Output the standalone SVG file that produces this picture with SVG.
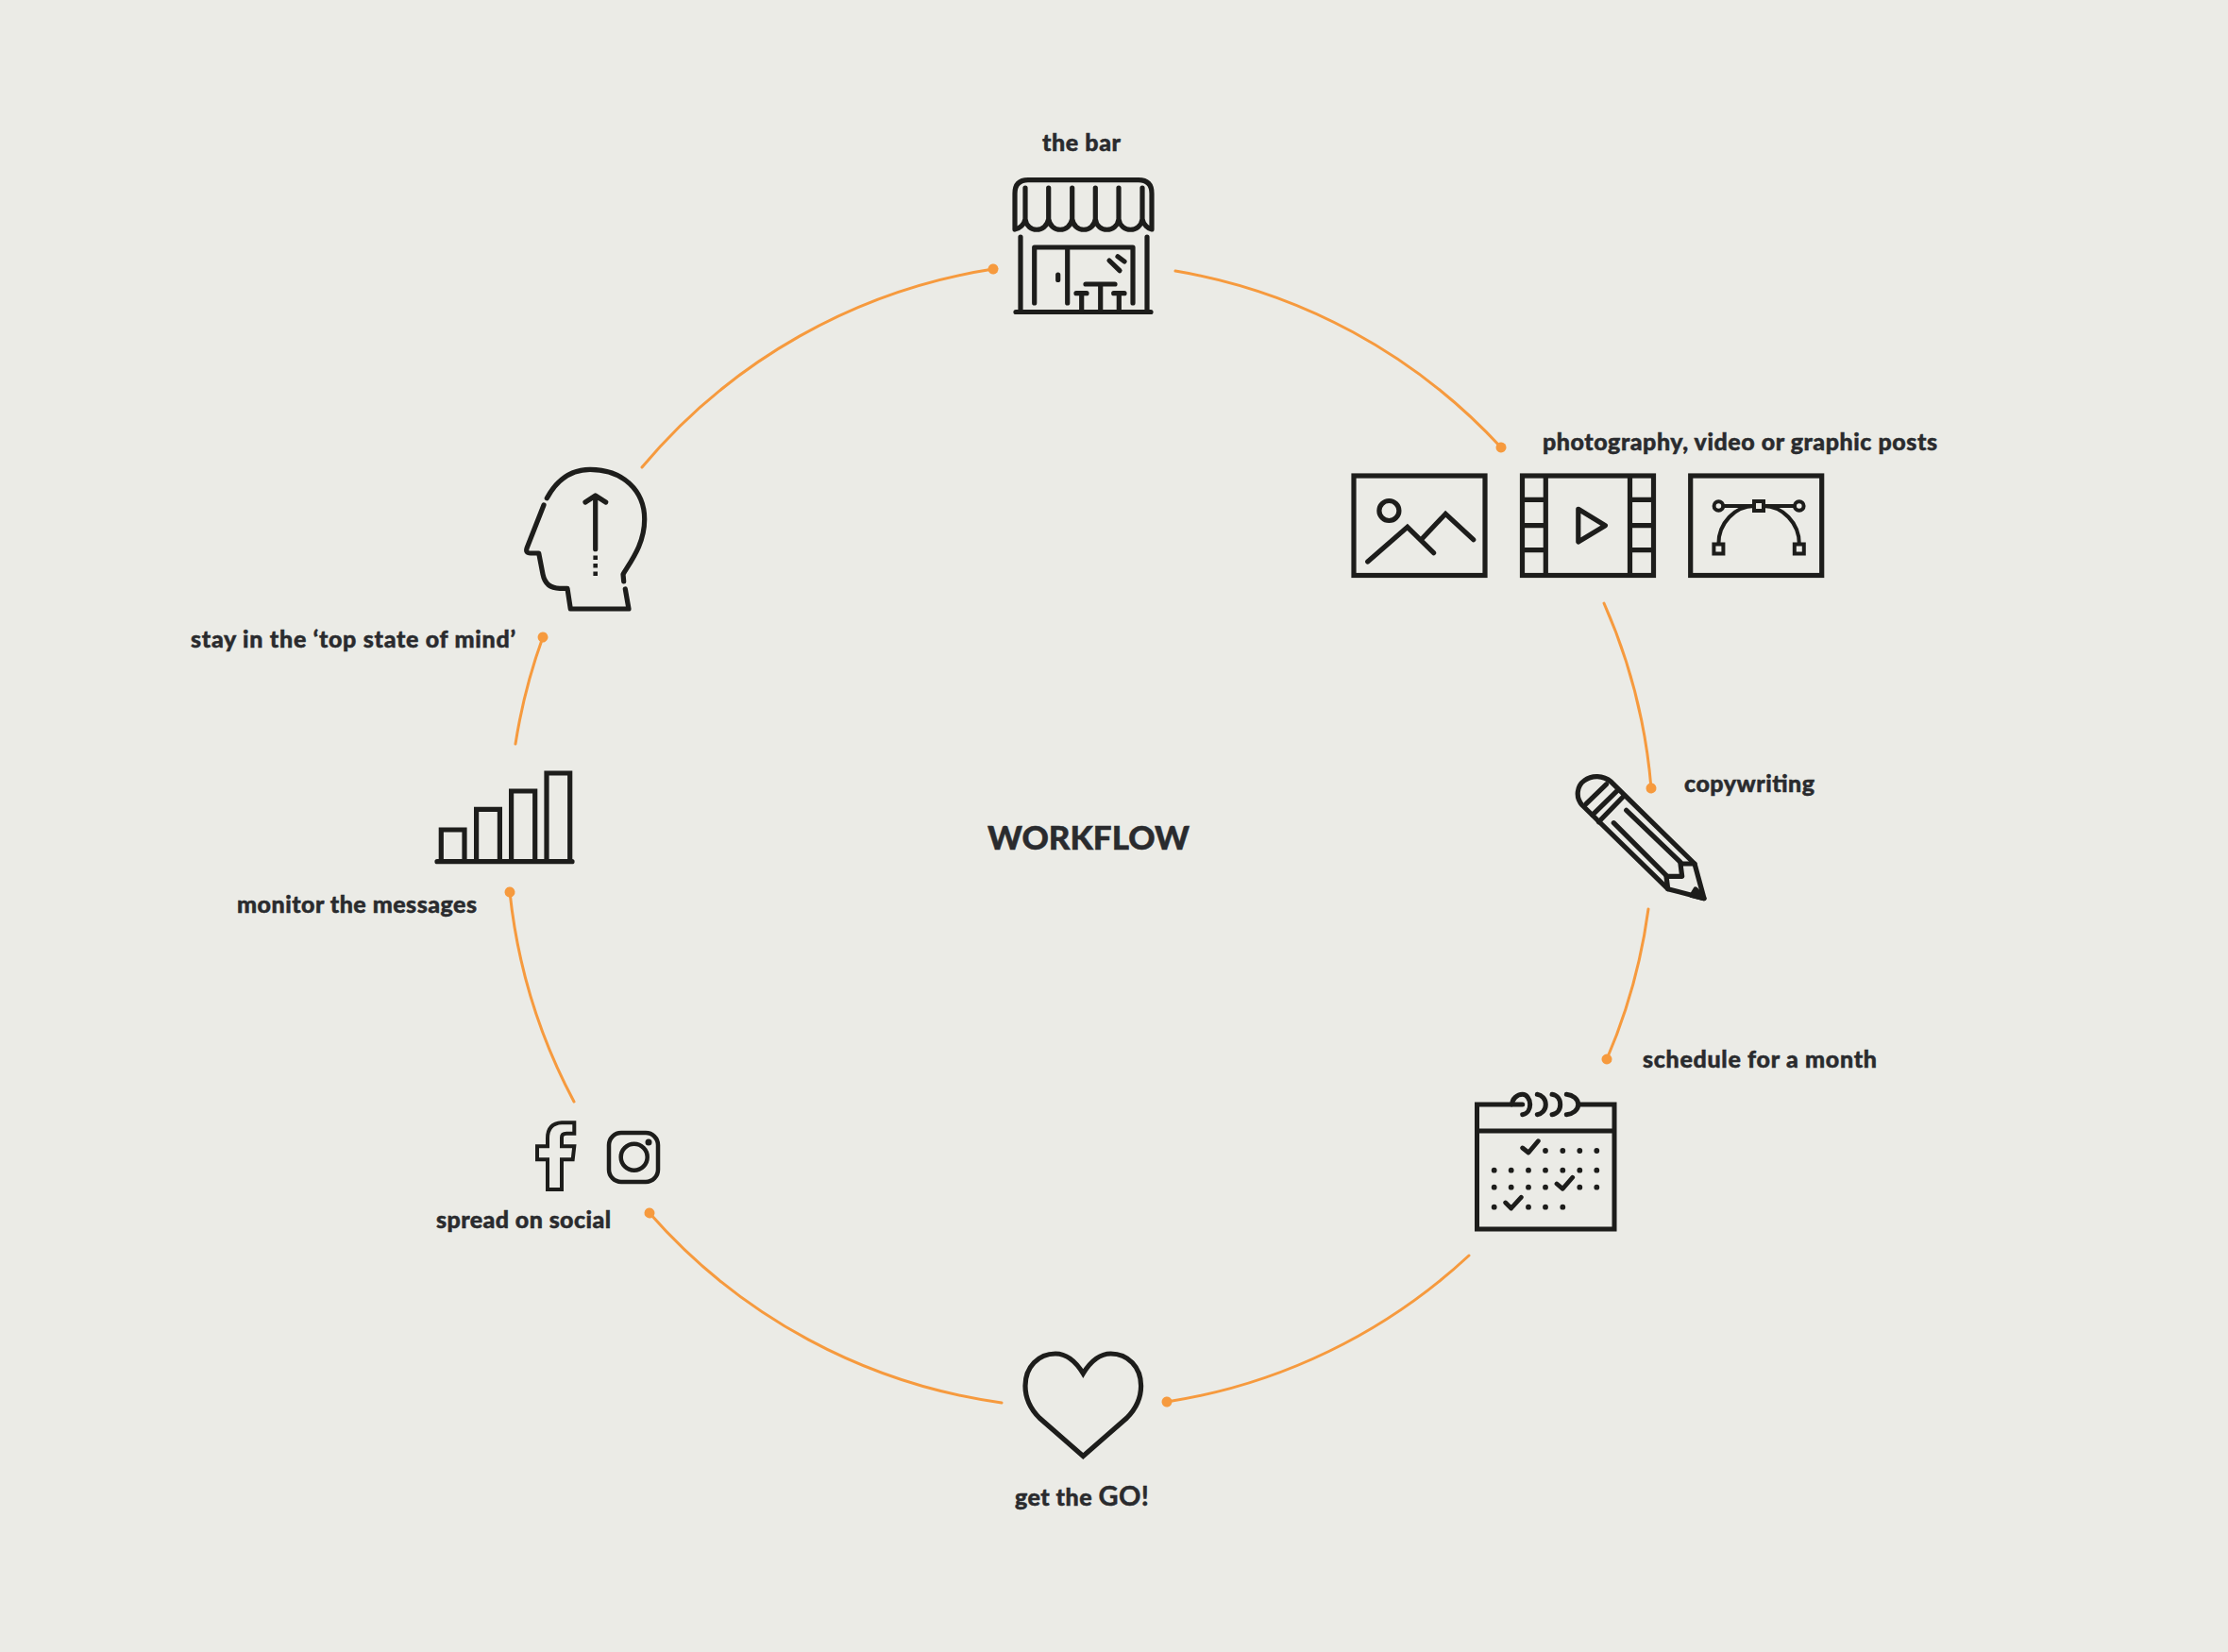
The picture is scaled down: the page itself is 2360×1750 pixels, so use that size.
<svg xmlns="http://www.w3.org/2000/svg" width="2360" height="1750" viewBox="0 0 2360 1750">
<defs>
<marker id="dot" markerUnits="userSpaceOnUse" markerWidth="14" markerHeight="14" refX="7" refY="7" orient="auto"><circle cx="7" cy="7" r="5.500" fill="#f69a3e"/></marker>
</defs>
<style>
.ic{fill:none;stroke:#1d1d1b;stroke-width:5.200;stroke-linecap:round;stroke-linejoin:round}
.sq{stroke-linecap:butt;stroke-linejoin:miter}
.th{stroke-width:4}
.k{fill:#1d1d1b}
.arc{fill:none;stroke:#f69a3e;stroke-width:3;stroke-linecap:round;marker-end:url(#dot)}
text{font-family:"Lato","Liberation Sans",sans-serif;font-weight:900;font-size:25px;fill:#2a2b2e;stroke:#2a2b2e;stroke-width:.5}
</style>
<rect width="2360" height="1750" fill="#ebebe6"/>
<g id="connectors" transform="translate(0,1)">
<path class="arc" d="M1245,286 A606,606 0 0 1 1590,473"/>
<path class="arc" d="M1699,638 A606,606 0 0 1 1749,834"/>
<path class="arc" d="M1746,962 A606,606 0 0 1 1702,1121"/>
<path class="arc" d="M1556,1329 A606,606 0 0 1 1236,1484"/>
<path class="arc" d="M1061,1485 A606,606 0 0 1 688,1284"/>
<path class="arc" d="M608,1166 A606,606 0 0 1 540,944"/>
<path class="arc" d="M546,787 A606,606 0 0 1 575,674"/>
<path class="arc" d="M680,494 A606,606 0 0 1 1052,284"/>
</g>
<text id="title" x="1046" y="900" style="font-size:35px" textLength="214">WORKFLOW</text>
<g id="node-bar">
<text x="1104" y="160" textLength="83">the bar</text>
<g class="ic">
<path d="M1075,243 V205 Q1075,190.700 1089,190.700 H1206 Q1220,190.700 1220,205 V243 C1216,242 1211,238 1210,232 V199 M1210,232 C1208,247 1187,247 1185,232 V199 M1185,232 C1183,247 1162,247 1160.300,232 V199 M1160.300,232 C1158,247 1138,247 1135.700,232 V199 M1135.700,232 C1133,247 1113,247 1110.700,232 V199 M1110.700,232 C1108,247 1088,247 1086,232 V199 M1086,232 C1085,238 1080,242 1075,243"/>
<path d="M1081,251 V330 M1215,251 V330 M1076,330.500 H1219"/>
<path d="M1095.700,321 V262 H1200 V321 M1130.700,262 V321 M1120.700,291 V296.500"/>
<path d="M1175,276 L1186,286.700 M1184,271.700 L1191,277"/>
<path d="M1150,301 H1181 M1165.700,301 V330 M1140,310.700 H1151 M1145.700,310.700 V330 M1179.700,310.700 H1191 M1185.300,310.700 V330"/>
</g>
</g>
<g id="node-posts">
<text x="1634" y="477" textLength="418">photography, video or graphic posts</text>
<g class="ic sq">
<rect x="1434" y="504" width="139" height="105.500"/>
<ellipse cx="1471.400" cy="541" rx="10.500" ry="10.500"/>
<path style="stroke-linecap:round" d="M1448.700,595 L1490.800,558.300 L1518.600,585.700 M1506,571 L1531.200,544.300 L1560.700,571.700"/>
<rect x="1612.500" y="504" width="139" height="105.500"/>
<path d="M1637.300,504 V609.500 M1726.500,504 V609.500 M1612.500,529.300 H1637.300 M1612.500,556.700 H1637.300 M1612.500,582.700 H1637.300 M1726.500,529.300 H1751.500 M1726.500,556.700 H1751.500 M1726.500,582.700 H1751.500"/>
<path style="stroke-linejoin:round" d="M1671.800,539.300 L1700.400,556.700 L1671.800,574 Z"/>
<rect x="1790.700" y="504" width="139" height="105.500"/>
</g>
<g class="ic sq th">
<path d="M1825,536 H1858 M1868,536 H1901"/>
<path d="M1820.400,576 C1820.400,554 1838,536 1858,536 M1868,536 C1888,536 1905.800,554 1905.800,576"/>
<circle cx="1820.400" cy="536" r="4.800"/><circle cx="1905.800" cy="536" r="4.800"/>
<rect x="1858" y="531" width="10" height="10"/>
<rect x="1815.400" y="576.500" width="10" height="10"/>
<rect x="1900.800" y="576.500" width="10" height="10"/>
</g>
</g>
<g id="node-copywriting">
<text x="1784" y="839" textLength="138">copywriting</text>
<g class="ic">
<path d="M1676,853 C1668,844 1671,832 1678,827 C1686,821 1698,821 1706.700,828.300 L1795,915 L1805,951.700 L1766.700,941.700 Z"/>
<path d="M1680,851.700 L1701.700,830.700 M1686.700,863.300 L1713.300,837.300 M1693.300,870.700 L1720,843.300"/>
<path d="M1722.700,858.300 L1780,913.300 M1709.300,871.700 L1765,927.300"/>
<path d="M1795,915 L1780,915 L1781.700,928.300 L1765,928.300 L1766.700,941.700"/>
<path class="k" d="M1796,942 L1805,951.700 L1792,948.500 Z"/>
</g>
</g>
<g id="node-schedule">
<text x="1740" y="1131" textLength="248">schedule for a month</text>
<g class="ic sq" style="stroke-width:5">
<path d="M1602,1170 H1564.500 V1302 H1710 V1170 H1672 M1564.500,1198 H1710"/>
</g>
<g class="ic" style="stroke-width:5">
<path d="M1612.700,1180.700 C1618,1180 1620.700,1175 1620.700,1170 C1620.700,1164 1617,1159.300 1612.700,1159.300 C1607,1159.300 1601.700,1164 1601.700,1170 H1612.700"/>
<path d="M1628.300,1159.300 C1633,1160 1637.300,1164 1637.300,1170 C1637.300,1176 1633,1180 1628.300,1180.700"/>
<path d="M1644,1159.300 C1649,1160 1652.700,1164 1652.700,1170 C1652.700,1176 1649,1180 1644,1180.700"/>
<path d="M1659.300,1159.300 C1666,1160 1671.700,1164 1671.700,1170 C1671.700,1176 1666,1180 1659.300,1180.700"/>
<path style="stroke-width:4.800" d="M1612.700,1216 L1619,1221 L1629.300,1208.700 M1649,1254 L1655.300,1259.300 L1665.700,1247.300 M1594.700,1274 L1600.700,1280 L1611.300,1268.300"/>
</g>
<g class="k">
<circle cx="1637" cy="1219" r="2.900"/><circle cx="1655.300" cy="1219" r="2.900"/><circle cx="1673.300" cy="1219" r="2.900"/><circle cx="1691.300" cy="1219" r="2.900"/>
<circle cx="1582.700" cy="1239.700" r="2.900"/><circle cx="1600.700" cy="1239.700" r="2.900"/><circle cx="1619" cy="1239.700" r="2.900"/><circle cx="1637" cy="1239.700" r="2.900"/><circle cx="1655.300" cy="1239.700" r="2.900"/><circle cx="1673.300" cy="1239.700" r="2.900"/><circle cx="1691.300" cy="1239.700" r="2.900"/>
<circle cx="1582.700" cy="1257.700" r="2.900"/><circle cx="1600.700" cy="1257.700" r="2.900"/><circle cx="1619" cy="1257.700" r="2.900"/><circle cx="1637" cy="1257.700" r="2.900"/><circle cx="1673.300" cy="1257.700" r="2.900"/><circle cx="1691.300" cy="1257.700" r="2.900"/>
<circle cx="1582.700" cy="1278.700" r="2.900"/><circle cx="1619" cy="1278.700" r="2.900"/><circle cx="1637" cy="1278.700" r="2.900"/><circle cx="1655.300" cy="1278.700" r="2.900"/>
</g>
</g>
<g id="node-go">
<text x="1075" y="1595" textLength="142">get the <tspan style="font-size:29px;font-weight:700">GO!</tspan></text>
<path class="ic" style="stroke-linecap:butt;stroke-linejoin:miter" d="M1147.300,1542.500 L1101,1502 C1091,1492 1086,1481 1086,1468 C1086,1448 1100,1434 1118,1434 C1130,1434 1140,1443 1147.300,1455 C1154.600,1443 1164.600,1434 1176.600,1434 C1194.600,1434 1208.600,1448 1208.600,1468 C1208.600,1481 1203.600,1492 1193.600,1502 Z"/>
</g>
<g id="node-social">
<text x="462" y="1300.500" textLength="185">spread on social</text>
<path class="ic sq th" d="M580,1260 H595 V1228.300 H606.700 L608.300,1214.300 H595 V1205 Q595,1200.700 600,1200.700 H608.300 V1189.300 H595 Q580,1190 580,1206 V1214.300 H569 V1228.300 H580 Z"/>
<g class="ic" style="stroke-width:4.500"><rect x="645" y="1200" width="52" height="52" rx="13"/><circle cx="671.700" cy="1225.700" r="14"/></g>
<circle class="k" cx="687" cy="1210" r="3.500"/>
</g>
<g id="node-messages">
<text x="251" y="966.500" textLength="254">monitor the messages</text>
<g class="ic sq">
<path d="M467.300,912 V879 H492 V912 M504.600,912 V857.300 H529.400 V912 M541.600,912 V838 H566.700 V912 M579,912 V819 H603.700 V912"/>
<path style="stroke-linecap:round" d="M463,912.700 H606"/>
</g>
</g>
<g id="node-mind">
<text x="202" y="686" textLength="344">stay in the ‘top state of mind’</text>
<g class="ic">
<path d="M579.300,527.700 C590,508 606,497.300 625,497.300 C660,497.300 682.700,520 682.700,550 C682.700,575 670,592 660,608.300 L660.700,616"/>
<path d="M576,535 L558.300,580 Q556,586 562,586 H570.700 L575,608.300 Q578,623.300 593,623.300 H601 L604.300,645 H666 L662.300,624"/>
<path d="M630.700,525 V581.700 M620,532 L630.700,525 L641.700,532"/>
</g>
<path class="k" d="M628.400,588.500 h4.600 v4.600 h-4.600 Z M628.400,597 h4.600 v4.600 h-4.600 Z M628.400,605.500 h4.600 v4.600 h-4.600 Z"/>
</g>
</svg>
